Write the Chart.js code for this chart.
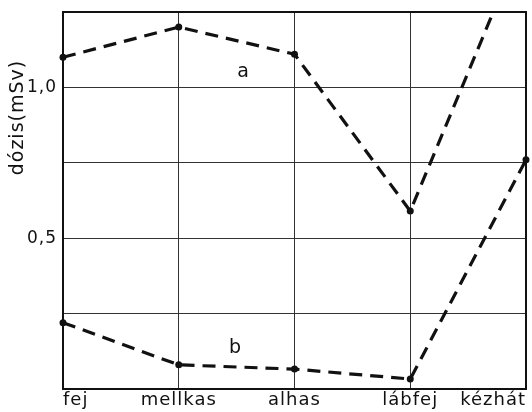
<!DOCTYPE html>
<html>
<head>
<meta charset="utf-8">
<script src="https://cdn.jsdelivr.net/npm/chart.js@4"></script>
<style>
  html, body { margin: 0; padding: 0; background: #fff; }
  #wrap { width: 532px; height: 412px; position: relative; }
</style>
</head>
<body>
<div id="wrap"><canvas id="chart"></canvas></div>
<script>
const categories = ['fej', 'mellkas', 'alhas', 'lábfej', 'kézhát'];
const seriesA = [1.10, 1.20, 1.11, 0.59, 1.51];
const seriesB = [0.22, 0.08, 0.066, 0.033, 0.76];
const yTickLabels = { 1: '1,0', 0.5: '0,5' };
const yTitle = 'dózis(mSv)';
// curve names, placed at (category index, dose)
const curveNames = [
  { text: 'a', x: 1.56, y: 1.05 },
  { text: 'b', x: 1.49, y: 0.135 },
];

const FONT = 'DejaVu Sans';

const frameAndNames = {
  id: 'frameAndNames',
  beforeDraw(chart) {
    chart.ctx.letterSpacing = '1px';
  },
  afterDatasetsDraw(chart) {
    const { ctx, chartArea: a, scales } = chart;
    ctx.save();
    ctx.strokeStyle = '#111';
    ctx.lineWidth = 2;
    ctx.strokeRect(a.left, a.top, a.right - a.left, a.bottom - a.top);
    ctx.fillStyle = '#111';
    ctx.font = '19px "' + FONT + '"';
    ctx.textAlign = 'center';
    ctx.textBaseline = 'middle';
    curveNames.forEach(n => {
      ctx.fillText(n.text, scales.x.getPixelForValue(n.x), scales.y.getPixelForValue(n.y));
    });
    // axis title sits high up, beside the 1,0 tick
    ctx.translate(18, scales.y.getPixelForValue(0.9));
    ctx.rotate(-Math.PI / 2);
    ctx.fillText(yTitle, 0, 0);
    ctx.restore();
  }
};

const lineStyle = {
  borderColor: '#111',
  backgroundColor: '#111',
  borderWidth: 3.2,
  borderDash: [13, 8],
  pointRadius: 3.5,
  pointBackgroundColor: '#111',
  pointBorderWidth: 0,
  tension: 0,
  fill: false,
};

new Chart(document.getElementById('chart'), {
  type: 'line',
  plugins: [frameAndNames],
  data: {
    labels: categories,
    datasets: [
      { label: 'a', data: seriesA, ...lineStyle },
      { label: 'b', data: seriesB, ...lineStyle },
    ]
  },
  options: {
    responsive: true,
    maintainAspectRatio: false,
    animation: false,
    layout: { padding: { top: 12, right: 6, left: 0, bottom: 0 } },
    plugins: { legend: { display: false }, tooltip: { enabled: false } },
    scales: {
      x: {
        offset: false,
        grid: { color: '#333', lineWidth: 1, drawTicks: false },
        border: { color: '#111', width: 2 },
        ticks: {
          align: 'inner',
          color: '#111',
          padding: 1,
          maxRotation: 0,
          autoSkip: false,
          font: { family: FONT, size: 18 }
        },
        afterFit: s => { s.height = 23; s.paddingLeft = 0; s.paddingRight = 0; }
      },
      y: {
        min: 0,
        max: 1.25,
        grid: { color: '#333', lineWidth: 1, drawTicks: false },
        border: { color: '#111', width: 2 },
        ticks: {
          stepSize: 0.25,
          color: '#111',
          padding: 6,
          font: { family: FONT, size: 17 },
          callback: v => yTickLabels[v] || ''
        },
        afterFit: s => { s.width = 63; s.paddingTop = 0; s.paddingBottom = 0; }
      }
    }
  }
});
</script>
</body>
</html>
